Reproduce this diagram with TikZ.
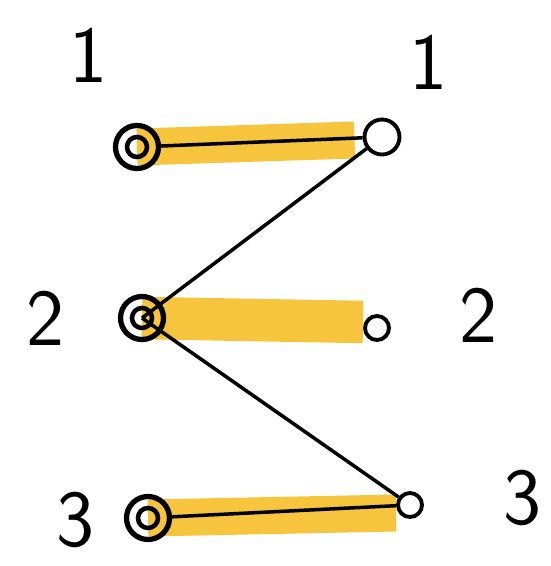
\documentclass[tikz,border=0pt]{standalone}
\usepackage{tikz}
\usetikzlibrary{calc,positioning,backgrounds}
\definecolor{marker}{RGB}{245,190,40}
\tikzset{
  lnode/.style={circle,draw,line width=3pt,minimum size=0.86cm,inner sep=0pt,
    path picture={\draw[line width=2.6pt] (path picture bounding box.center) circle (0.2cm);}},
  rnode/.style={circle,draw,line width=2.2pt,minimum size=0.48cm,inner sep=0pt},
  lbl/.style={font=\fontsize{46}{50}\selectfont\sffamily},
  hilite/.style={marker,line width=0.74cm,opacity=0.9},
  edge/.style={line width=2pt}
}
\begin{document}
\begin{tikzpicture}[x=0.02cm,y=-0.02cm]
   \useasboundingbox (0,0) rectangle (551,566);
   \node[lnode] (l1) at (137,147) {};
   \node[lnode] (l2) at (142,318) {};
   \node[lnode] (l3) at (148,518) {};
   \node[rnode,minimum width=0.6cm,minimum height=0.7cm] (r1) at (382,137) {};
   \node[rnode] (r2) at (377,328) {};
   \node[rnode] (r3) at (410,505) {};
   % highlighted matching
   \begin{scope}[on background layer]
     \draw[hilite] (l1.center) -- ($(r1.west)+(-8,3)$);
     \draw[hilite,line width=0.85cm] (l2.center) -- ($(r2.west)+(0,-6)$);
     \draw[hilite] (l3.center) -- ($(r3.west)+(0,8)$);
   \end{scope}
   % edges
   \draw[edge] (l1) -- (r1);
   \draw[edge] (r1) -- (l2.center);
   \draw[edge] (l2.center) -- (r3);
   \draw[edge] (l3) -- (r3);
   % labels
   \node[lbl] (t1) at (88,55) {1};
   \node[lbl] (t2) at (45,318) {2};
   \node[lbl] (t3) at (75,520) {3};
   \node[lbl] (s1) at (428,62) {1};
   \node[lbl] (s2) at (478,315) {2};
   \node[lbl] (s3) at (522,498) {3};
\end{tikzpicture}
\end{document}
